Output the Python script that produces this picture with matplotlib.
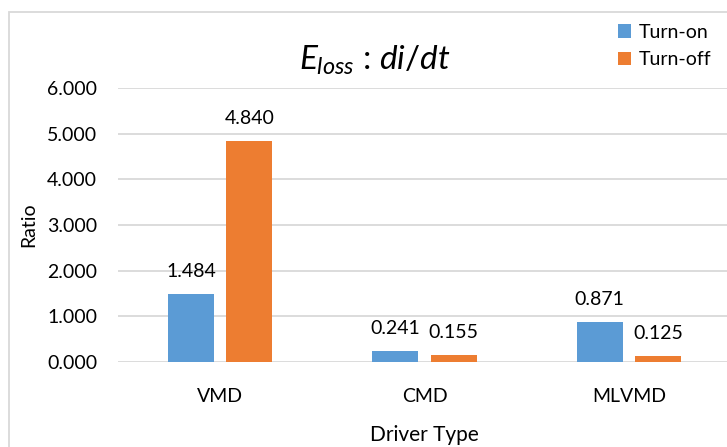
import matplotlib
matplotlib.use("Agg")
import matplotlib.pyplot as plt
from matplotlib.patches import Rectangle
import numpy as np

plt.rcParams['font.family'] = ['Lato', 'DejaVu Sans']
plt.rcParams['mathtext.fontset'] = 'custom'
plt.rcParams['mathtext.it'] = 'Lato:italic'
plt.rcParams['mathtext.rm'] = 'Lato'

categories = ["VMD", "CMD", "MLVMD"]
turn_on = [1.484, 0.241, 0.871]
turn_off = [4.840, 0.155, 0.125]
series_names = ["Turn-on", "Turn-off"]
y_ticks = [0, 1, 2, 3, 4, 5, 6]

BLUE = "#5B9BD5"
ORANGE = "#ED7D31"
GRID = "#D9D9D9"
FS = 14

W, H = 727, 447
fig = plt.figure(figsize=(W / 100, H / 100), dpi=100)

# chart frame (runs off the right and bottom edges)
fig.patches.append(Rectangle((8.5 / W, -0.1), 1.2, 1 - 12.5 / H + 0.1,
                             transform=fig.transFigure, fill=False,
                             edgecolor=GRID, linewidth=1.3))

ax = fig.add_axes([118 / W, 1 - 362 / H, 613 / W, 274 / H])

x = np.arange(len(categories))
bw = 0.2245
off = 0.1426
b1 = ax.bar(x - off, turn_on, bw, color=BLUE, label=series_names[0], zorder=3)
b2 = ax.bar(x + off, turn_off, bw, color=ORANGE, label=series_names[1], zorder=3)

for bars, vals in ((b1, turn_on), (b2, turn_off)):
    for r, v in zip(bars, vals):
        ax.annotate(f"{v:.3f}", (r.get_x() + r.get_width() / 2, v),
                    xytext=(0, 10), textcoords="offset points",
                    ha="center", va="bottom", fontsize=FS, color="black")

ax.set_xlim(-0.5, 2.5)
ax.set_ylim(0, 6)
ax.set_yticks(y_ticks)
ax.set_yticklabels([f"{t:.3f}" for t in y_ticks])
ax.set_xticks(x)
ax.set_xticklabels(categories)
ax.tick_params(axis="both", length=0, labelsize=FS, colors="black")
ax.tick_params(axis="y", pad=15)
ax.tick_params(axis="x", pad=19)
ax.yaxis.grid(True, color=GRID, linewidth=1.3, zorder=0)
ax.set_axisbelow(True)
for s in ax.spines.values():
    s.set_visible(False)

ax.set_xlabel("Driver Type", fontsize=15, labelpad=14)
ax.set_ylabel("Ratio", fontsize=FS)
ax.yaxis.set_label_coords(-0.131, 0.5)

fig.text(375 / W, 1 - 60 / H, r"$E_{loss}$ : $di/dt$",
         ha="center", va="center", fontsize=24)

leg = fig.legend(handles=[b1, b2], labels=series_names,
                 loc="upper left", bbox_to_anchor=(608 / W, 1 - 14 / H),
                 frameon=False, fontsize=FS, handlelength=0.7, handleheight=0.7,
                 handletextpad=0.4, labelspacing=0.55, borderpad=0)

fig.savefig("out.png", dpi=100)
